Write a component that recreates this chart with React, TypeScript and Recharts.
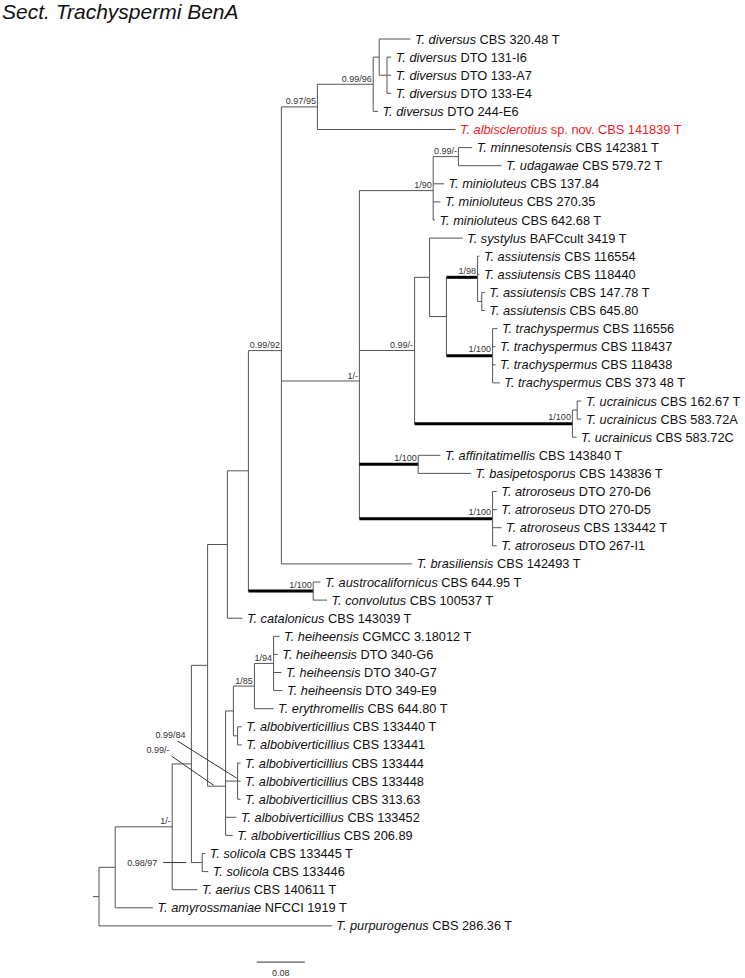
import React from 'react';
import { ScatterChart, Scatter, XAxis, YAxis, ReferenceLine } from 'recharts';

// leaves, top to bottom: species, strain, parent clade, branch length
const taxa: [string, string, string, number][] = [
  ['T. diversus', 'CBS 320.48 T', 'n19', 0.052],
  ['T. diversus', 'DTO 131-I6', 'n18', 0.007],
  ['T. diversus', 'DTO 133-A7', 'n18', 0.007],
  ['T. diversus', 'DTO 133-E4', 'n18', 0.007],
  ['T. diversus', 'DTO 244-E6', 'n17', 0.008],
  ['T. albisclerotius', 'sp. nov. CBS 141839 T', 'n15', 0.23],
  ['T. minnesotensis', 'CBS 142381 T', 'n24', 0.023],
  ['T. udagawae', 'CBS 579.72 T', 'n24', 0.072],
  ['T. minioluteus', 'CBS 137.84', 'n20', 0.018],
  ['T. minioluteus', 'CBS 270.35', 'n20', 0.012],
  ['T. minioluteus', 'CBS 642.68 T', 'n20', 0.003],
  ['T. systylus', 'BAFCcult 3419 T', 'n26', 0.055],
  ['T. assiutensis', 'CBS 116554', 'n28', 0.003],
  ['T. assiutensis', 'CBS 118440', 'n28', 0.003],
  ['T. assiutensis', 'CBS 147.78 T', 'n30', 0.005],
  ['T. assiutensis', 'CBS 645.80', 'n30', 0.005],
  ['T. trachyspermus', 'CBS 116556', 'n29', 0.008],
  ['T. trachyspermus', 'CBS 118437', 'n29', 0.005],
  ['T. trachyspermus', 'CBS 118438', 'n29', 0.005],
  ['T. trachyspermus', 'CBS 373 48 T', 'n29', 0.012],
  ['T. ucrainicus', 'CBS 162.67 T', 'nu2', 0.007],
  ['T. ucrainicus', 'CBS 583.72A', 'nu2', 0.007],
  ['T. ucrainicus', 'CBS 583.72C', 'nu', 0.007],
  ['T. affinitatimellis', 'CBS 143840 T', 'n22', 0.037],
  ['T. basipetosporus', 'CBS 143836 T', 'n22', 0.088],
  ['T. atroroseus', 'DTO 270-D6', 'n23', 0.007],
  ['T. atroroseus', 'DTO 270-D5', 'n23', 0.007],
  ['T. atroroseus', 'CBS 133442 T', 'n23', 0.015],
  ['T. atroroseus', 'DTO 267-I1', 'n23', 0.007],
  ['T. brasiliensis', 'CBS 142493 T', 'n14', 0.218],
  ['T. austrocalifornicus', 'CBS 644.95 T', 'na', 0.012],
  ['T. convolutus', 'CBS 100537 T', 'na', 0.023],
  ['T. catalonicus', 'CBS 143039 T', 'n5', 0.025],
  ['T. heiheensis', 'CGMCC 3.18012 T', 'n10', 0.01],
  ['T. heiheensis', 'DTO 340-G6', 'n10', 0.007],
  ['T. heiheensis', 'DTO 340-G7', 'n10', 0.013],
  ['T. heiheensis', 'DTO 349-E9', 'n10', 0.015],
  ['T. erythromellis', 'CBS 644.80 T', 'n9', 0.032],
  ['T. albobiverticillius', 'CBS 133440 T', 'n8', 0.007],
  ['T. albobiverticillius', 'CBS 133441', 'n8', 0.007],
  ['T. albobiverticillius', 'CBS 133444', 'n12', 0.005],
  ['T. albobiverticillius', 'CBS 133448', 'n12', 0.005],
  ['T. albobiverticillius', 'CBS 313.63', 'n12', 0.005],
  ['T. albobiverticillius', 'CBS 133452', 'n6', 0.018],
  ['T. albobiverticillius', 'CBS 206.89', 'n6', 0.012],
  ['T. solicola', 'CBS 133445 T', 's', 0.005],
  ['T. solicola', 'CBS 133446', 's', 0.01],
  ['T. aerius', 'CBS 140611 T', 'n2', 0.042],
  ['T. amyrossmaniae', 'NFCCI 1919 T', 'n1', 0.063],
  ['T. purpurogenus', 'CBS 286.36 T', 'root', 0.388],
];

// internal nodes: id, parent, branch length
const clades: [string, string, number][] = [
  ['n1', 'root', 0.027],
  ['n2', 'n1', 0.095],
  ['n3', 'n2', 0.032],
  ['n4', 'n3', 0.027],
  ['n5', 'n4', 0.033],
  ['n13', 'n5', 0.035],
  ['n14', 'n13', 0.055],
  ['n15', 'n14', 0.06],
  ['n17', 'n15', 0.093],
  ['n19', 'n17', 0.01],
  ['n18', 'n19', 0.013],
  ['n16', 'n14', 0.13],
  ['n20', 'n16', 0.123],
  ['n24', 'n20', 0.042],
  ['n21', 'n16', 0.092],
  ['n26', 'n21', 0.025],
  ['n27', 'n26', 0.028],
  ['n28', 'n27', 0.052],
  ['n30', 'n28', 0.007],
  ['n29', 'n27', 0.077],
  ['nu', 'n21', 0.263],
  ['nu2', 'nu', 0.008],
  ['n22', 'n16', 0.098],
  ['n23', 'n16', 0.222],
  ['na', 'n13', 0.108],
  ['n6', 'n4', 0.03],
  ['n7', 'n6', 0.013],
  ['n9', 'n7', 0.035],
  ['n10', 'n9', 0.032],
  ['n8', 'n7', 0.007],
  ['n12', 'n6', 0.02],
  ['s', 'n3', 0.018],
];

// posterior probability / bootstrap
const supports: [string, string][] = [
  ['n17', '0.99/96'],
  ['n15', '0.97/95'],
  ['n14', '0.99/92'],
  ['n24', '0.99/-'],
  ['n20', '1/90'],
  ['n28', '1/98'],
  ['n29', '1/100'],
  ['n21', '0.99/-'],
  ['n16', '1/-'],
  ['nu', '1/100'],
  ['n22', '1/100'],
  ['n23', '1/100'],
  ['na', '1/100'],
  ['n10', '1/94'],
  ['n9', '1/85'],
  ['n2', '1/-'],
];
const leaderSupports: [string, string][] = [
  ['n12', '0.99/84'],
  ['n6', '0.99/-'],
  ['s', '0.98/97'],
];
const boldClades = ['n28', 'n29', 'nu', 'n22', 'n23', 'na'];
const newSpecies = 'T. albisclerotius';
const scaleLength = 0.08;

const FONT = '"Liberation Sans", Arial, sans-serif';
const LINE = '#555';
const X_DOMAIN: [number, number] = [-99 / 600, 646 / 600];
const Y_DOMAIN: [number, number] = [-39 / 18.1, 939 / 18.1];

type TreeNode = { id: string; parent: string | null; len: number; children: string[]; x: number; y: number; leaf?: number };

const nodes: Record<string, TreeNode> = {
  root: { id: 'root', parent: null, len: 0, children: [], x: 0, y: 0 },
};
clades.forEach(([id, parent, len]) => {
  nodes[id] = { id, parent, len, children: [], x: 0, y: 0 };
});
taxa.forEach(([, , parent, len], i) => {
  nodes['t' + i] = { id: 't' + i, parent, len, children: [], x: 0, y: i, leaf: i };
});
Object.values(nodes).forEach((n) => {
  if (n.parent) nodes[n.parent].children.push(n.id);
});

const setX = (id: string, x: number) => {
  nodes[id].x = x;
  nodes[id].children.forEach((c) => setX(c, x + nodes[c].len));
};
const setY = (id: string): number => {
  const n = nodes[id];
  if (n.leaf !== undefined) return n.y;
  const ys = n.children.map(setY);
  n.y = ys.reduce((a, b) => a + b, 0) / ys.length;
  return n.y;
};
setX('root', 0);
setY('root');

// branch segments
const segments: { x1: number; y1: number; x2: number; y2: number; bold: boolean }[] = [];
Object.values(nodes).forEach((n) => {
  if (n.parent) {
    const p = nodes[n.parent];
    segments.push({ x1: p.x, y1: n.y, x2: n.x, y2: n.y, bold: boldClades.includes(n.id) });
  }
  if (n.children.length) {
    const ys = n.children.map((c) => nodes[c].y);
    segments.push({ x1: n.x, y1: Math.min(...ys), x2: n.x, y2: Math.max(...ys), bold: false });
  }
});
const rootNode = nodes.root;
segments.push({ x1: -0.01, y1: rootNode.y, x2: 0, y2: rootNode.y, bold: false });

const leafPoints = taxa.map(([species, strain], i) => ({
  x: nodes['t' + i].x,
  y: i,
  species,
  strain,
}));
const supportPoints = supports.map(([id, label]) => ({ x: nodes[id].x, y: nodes[id].y, label, bold: boldClades.includes(id) }));
const leaderPoints = leaderSupports.map(([id, label]) => ({ x: nodes[id].x, y: nodes[id].y, label, id }));

const scaleX = 0.263;
const scaleRow = 51;
const scalePoints = [{ x: scaleX + scaleLength / 2, y: scaleRow, label: String(scaleLength) }];

// pixel layout of the leader-line annotations, relative to their node
const leaderLayout: Record<string, { tx: number; ty: number; lx1: number; ly1: number; lx2: number; ly2: number }> = {
  n12: { tx: -52, ty: -43, lx1: -60, ly1: -40, lx2: -1, ly2: -3 },
  n6: { tx: -56, ty: -33, lx1: -54, ly1: -30, lx2: -12, ly2: -1 },
  s: { tx: -45, ty: 3, lx1: -39, ly1: 0, lx2: -16, ly2: 0 },
};

const LeafLabel = (props: any) => {
  const { cx, cy, payload } = props;
  const isNew = payload.species === newSpecies;
  return (
    <text
      x={cx + 4.5}
      y={cy}
      dy="0.36em"
      fontSize={12.75}
      fontFamily={FONT}
      fill={isNew ? '#ee1c25' : '#111'}
      style={{ whiteSpace: 'pre' }}
    >
      <tspan fontStyle="italic">{payload.species}</tspan>
      <tspan>{' ' + payload.strain}</tspan>
    </text>
  );
};

const SupportLabel = (props: any) => {
  const { cx, cy, payload } = props;
  return (
    <text x={cx - 1.5} y={cy - (payload.bold ? 3.5 : 2.5)} textAnchor="end" fontSize={9} fontFamily={FONT} fill="#333">
      {payload.label}
    </text>
  );
};

const LeaderLabel = (props: any) => {
  const { cx, cy, payload } = props;
  const l = leaderLayout[payload.id];
  return (
    <g>
      <line x1={cx + l.lx1} y1={cy + l.ly1} x2={cx + l.lx2} y2={cy + l.ly2} stroke="#333" strokeWidth={1} />
      <text x={cx + l.tx} y={cy + l.ty} textAnchor="end" fontSize={9} fontFamily={FONT} fill="#333">
        {payload.label}
      </text>
    </g>
  );
};

const ScaleLabel = (props: any) => {
  const { cx, cy, payload } = props;
  return (
    <text x={cx} y={cy + 14} textAnchor="middle" fontSize={9} fontFamily={FONT} fill="#333">
      {payload.label}
    </text>
  );
};

export default function App() {
  return (
    <div style={{ position: 'relative', width: 745, height: 978, background: '#fff' }}>
      <style>{'body{margin:0}'}</style>
      <div
        style={{
          position: 'absolute',
          left: 2,
          top: 1,
          fontFamily: FONT,
          fontStyle: 'italic',
          fontSize: 21,
          lineHeight: 1,
          color: '#111',
          whiteSpace: 'nowrap',
        }}
      >
        Sect. Trachyspermi BenA
      </div>
      <ScatterChart width={745} height={978} margin={{ top: 0, right: 0, bottom: 0, left: 0 }}>
        <XAxis type="number" dataKey="x" domain={X_DOMAIN} allowDataOverflow hide />
        <YAxis type="number" dataKey="y" domain={Y_DOMAIN} allowDataOverflow reversed hide />
        {segments.map((s, i) => (
          <ReferenceLine
            key={i}
            segment={[
              { x: s.x1, y: s.y1 },
              { x: s.x2, y: s.y2 },
            ]}
            stroke={s.bold ? '#000' : LINE}
            strokeWidth={s.bold ? 3 : 1}
            ifOverflow="visible"
          />
        ))}
        <ReferenceLine
          segment={[
            { x: scaleX, y: scaleRow },
            { x: scaleX + scaleLength, y: scaleRow },
          ]}
          stroke="#333"
          strokeWidth={1}
          ifOverflow="visible"
        />
        <Scatter data={leafPoints} shape={LeafLabel} isAnimationActive={false} />
        <Scatter data={supportPoints} shape={SupportLabel} isAnimationActive={false} />
        <Scatter data={leaderPoints} shape={LeaderLabel} isAnimationActive={false} />
        <Scatter data={scalePoints} shape={ScaleLabel} isAnimationActive={false} />
      </ScatterChart>
    </div>
  );
}
